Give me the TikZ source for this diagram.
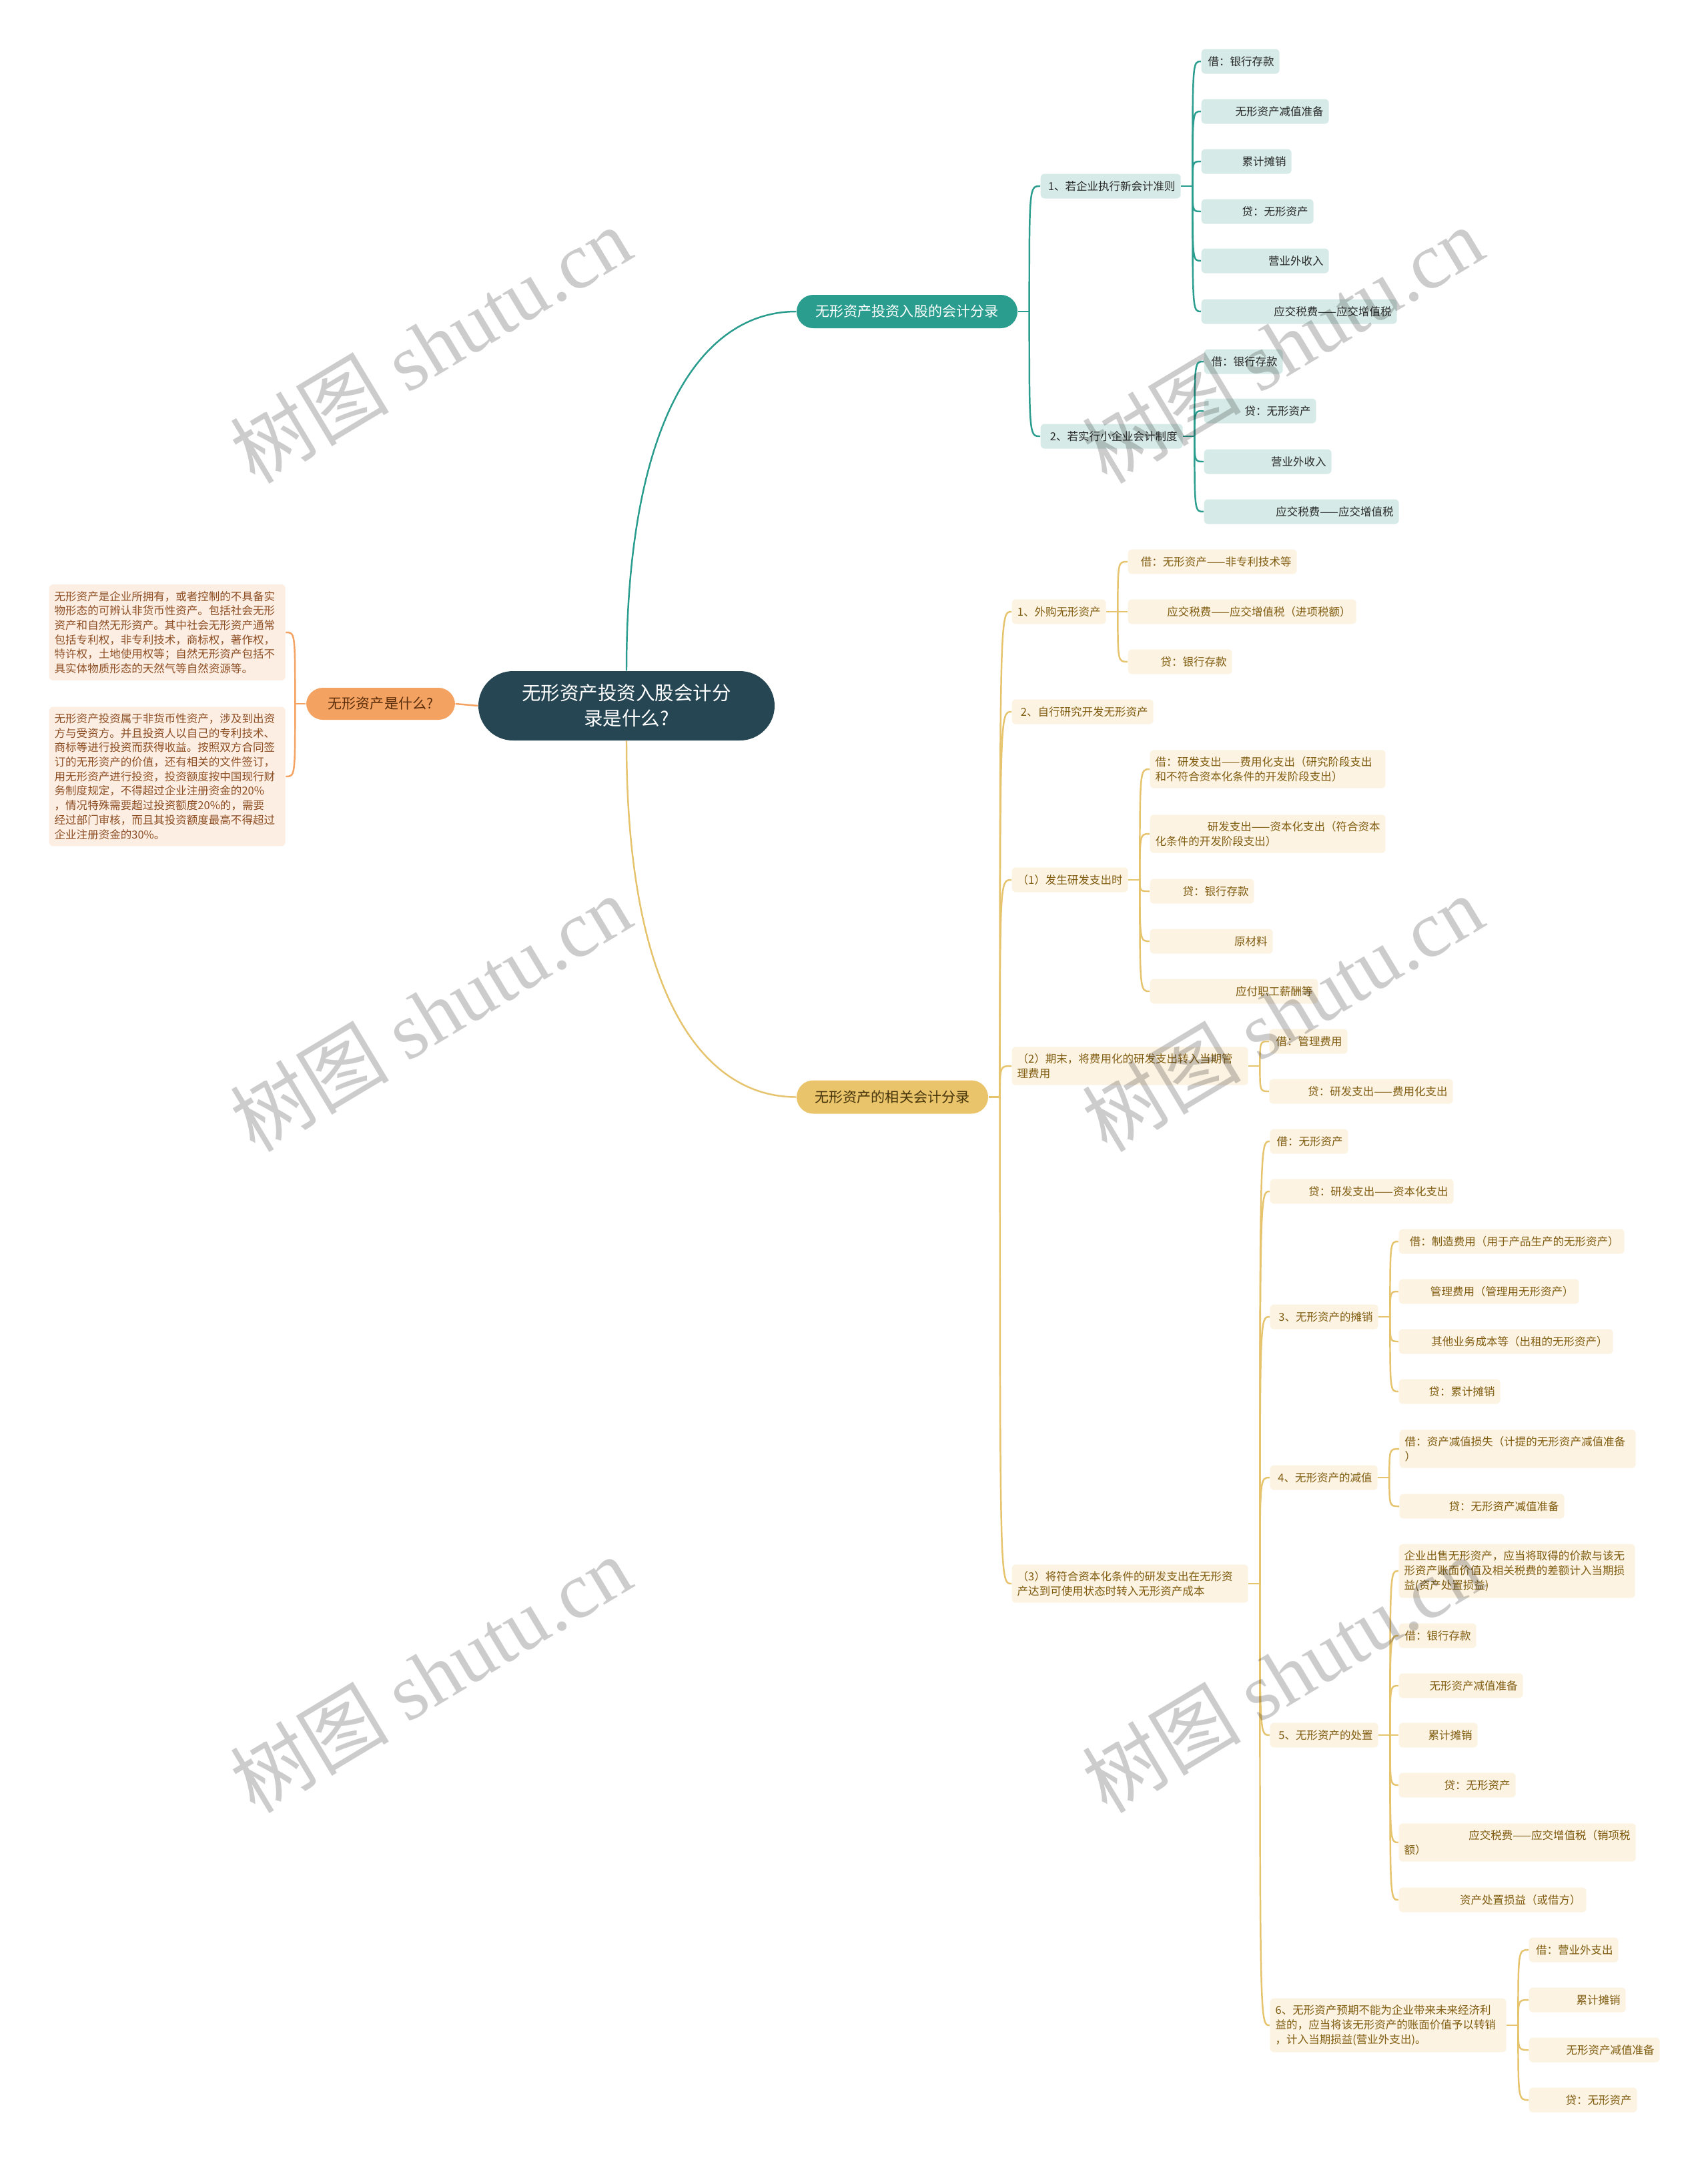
\documentclass[tikz,border=0pt]{standalone}
\usepackage{fontspec}
\setmainfont{Noto Sans CJK SC}
\newfontfamily\wmserif{Liberation Serif}
\usepackage{xcolor}
\usepackage{tikz}
\usetikzlibrary{calc}
\definecolor{rootfill}{RGB}{38,70,83}
\definecolor{tealmain}{RGB}{42,157,143}
\definecolor{tealleaf}{RGB}{214,235,232}
\definecolor{tealtext}{RGB}{40,40,40}
\definecolor{goldmain}{RGB}{233,196,106}
\definecolor{goldline}{RGB}{230,196,110}
\definecolor{goldleaf}{RGB}{252,243,226}
\definecolor{goldtext}{RGB}{128,92,16}
\definecolor{goldmaintext}{RGB}{70,52,10}
\definecolor{orangemain}{RGB}{244,162,97}
\definecolor{orangemaintext}{RGB}{90,45,10}
\definecolor{peachleaf}{RGB}{253,238,228}
\definecolor{peachtext}{RGB}{140,78,35}

\begin{document}
\begin{tikzpicture}[
  rootbox/.style={fill=rootfill, text=white, rounded corners=0.52cm,
    minimum width=4.44cm, minimum height=1.04cm, align=center,
    font=\fontsize{8.1pt}{10.9pt}\selectfont},
  mainbox/.style={rounded corners=0.25cm, minimum height=0.5cm, inner sep=0pt,
    font=\fontsize{6pt}{7pt}\selectfont},
  leafbase/.style={anchor=west, rounded corners=0.06cm, inner xsep=0.08cm,
    inner ysep=0.1cm, minimum height=0.37cm,
    font=\fontsize{4.7pt}{6.17pt}\selectfont},
  tleaf/.style={leafbase, fill=tealleaf, text=tealtext, text width=#1cm, align=right},
  gleaf/.style={leafbase, fill=goldleaf, text=goldtext, text width=#1cm, align=right},
  gnote/.style={leafbase, fill=goldleaf, text=goldtext, text width=#1cm, align=left},
  pnote/.style={leafbase, fill=peachleaf, text=peachtext, text width=3.38cm, align=left},
  tline/.style={draw=tealmain, line width=0.7pt},
  gline/.style={draw=goldline, line width=0.7pt},
  pline/.style={draw=orangemain, line width=0.7pt},
  wmark/.style={rotate=31, text=black, opacity=0.2,
    font=\fontsize{34pt}{34pt}\selectfont},
]
  \useasboundingbox (0,0) rectangle (25.6,-32.41);
  \fill[white] (0,0) rectangle (25.6,-32.41);

  % root and main branches
  \node[rootbox] (root) at (9.39,-10.58) {无形资产投资入股会计分\\录是什么?};
  \node[mainbox, fill=tealmain, text=white, minimum width=3.31cm] (tM) at (13.595,-4.67) {无形资产投资入股的会计分录};
  \node[mainbox, fill=goldmain, text=goldmaintext, minimum width=2.87cm] (gM) at (13.375,-16.445) {无形资产的相关会计分录};
  \node[mainbox, fill=orangemain, text=orangemaintext, minimum width=2.23cm, minimum height=0.48cm] (pM) at (5.705,-10.55) {无形资产是什么?};

  % left notes
  \node[pnote] (pb1) at (0.73,-9.48) {无形资产是企业所拥有，或者控制的不具备实\\物形态的可辨认非货币性资产。包括社会无形\\资产和自然无形资产。其中社会无形资产通常\\包括专利权，非专利技术，商标权，著作权，\\特许权，土地使用权等；自然无形资产包括不\\具实体物质形态的天然气等自然资源等。};
  \node[pnote] (pb2) at (0.73,-11.64) {无形资产投资属于非货币性资产，涉及到出资\\方与受资方。并且投资人以自己的专利技术、\\商标等进行投资而获得收益。按照双方合同签\\订的无形资产的价值，还有相关的文件签订，\\用无形资产进行投资，投资额度按中国现行财\\务制度规定，不得超过企业注册资金的20\%\\，情况特殊需要超过投资额度20\%的，需要\\经过部门审核，而且其投资额度最高不得超过\\企业注册资金的30\%。};

  % teal branch
  \node[tleaf=1.94] (tA) at (15.59,-2.79) {1、若企业执行新会计准则};
  \node[tleaf=1.97] (tB) at (15.59,-6.54) {2、若实行小企业会计制度};
  \node[tleaf=1.01] (ta1) at (18.00,-0.92) {借：银行存款};
  \node[tleaf=1.75] (ta2) at (18.00,-1.67) {无形资产减值准备};
  \node[tleaf=1.19] (ta3) at (18.00,-2.42) {累计摊销};
  \node[tleaf=1.52] (ta4) at (18.00,-3.17) {贷：无形资产};
  \node[tleaf=1.75] (ta5) at (18.00,-3.91) {营业外收入};
  \node[tleaf=2.77] (ta6) at (18.00,-4.67) {应交税费——应交增值税};
  \node[tleaf=1.02] (tb1) at (18.04,-5.42) {借：银行存款};
  \node[tleaf=1.52] (tb2) at (18.04,-6.16) {贷：无形资产};
  \node[tleaf=1.75] (tb3) at (18.04,-6.92) {营业外收入};
  \node[tleaf=2.76] (tb4) at (18.04,-7.67) {应交税费——应交增值税};

  % gold branch
  \node[gleaf=1.25] (gA) at (15.16,-9.17) {1、外购无形资产};
  \node[gleaf=2.37] (ga1) at (16.90,-8.42) {借：无形资产——非专利技术等};
  \node[gleaf=3.26] (ga2) at (16.90,-9.17) {应交税费——应交增值税（进项税额）};
  \node[gleaf=1.40] (ga3) at (16.90,-9.92) {贷：银行存款};
  \node[gleaf=1.96] (gB) at (15.16,-10.67) {2、自行研究开发无形资产};
  \node[gnote=1.58] (gC) at (15.16,-13.19) {（1）发生研发支出时};
  \node[gnote=3.37] (gc1) at (17.23,-11.53) {借：研发支出——费用化支出（研究阶段支出\\和不符合资本化条件的开发阶段支出）};
  \node[gnote=3.37] (gc2) at (17.23,-12.50) {\hspace*{\fill}研发支出——资本化支出（符合资本\\化条件的开发阶段支出）};
  \node[gleaf=1.40] (gc3) at (17.23,-13.36) {贷：银行存款};
  \node[gleaf=1.68] (gc4) at (17.23,-14.11) {原材料};
  \node[gleaf=2.36] (gc5) at (17.23,-14.86) {应付职工薪酬等};
  \node[gnote=3.38] (gD) at (15.16,-15.98) {（2）期末，将费用化的研发支出转入当期管\\理费用};
  \node[gleaf=1.01] (gd1) at (19.02,-15.61) {借：管理费用};
  \node[gleaf=2.59] (gd2) at (19.02,-16.36) {贷：研发支出——费用化支出};
  \node[gnote=3.38] (gE) at (15.16,-23.74) {（3）将符合资本化条件的研发支出在无形资\\产达到可使用状态时转入无形资产成本};
  \node[gleaf=1.01] (ge1) at (19.03,-17.11) {借：无形资产};
  \node[gleaf=2.59] (ge2) at (19.03,-17.86) {贷：研发支出——资本化支出};
  \node[gleaf=1.46] (ge3) at (19.03,-19.74) {3、无形资产的摊销};
  \node[gleaf=3.22] (g3a) at (20.96,-18.61) {借：制造费用（用于产品生产的无形资产）};
  \node[gleaf=2.54] (g3b) at (20.96,-19.36) {管理费用（管理用无形资产）};
  \node[gleaf=3.05] (g3c) at (20.96,-20.11) {其他业务成本等（出租的无形资产）};
  \node[gleaf=1.36] (g3d) at (20.96,-20.86) {贷：累计摊销};
  \node[gleaf=1.45] (ge4) at (19.03,-22.15) {4、无形资产的减值};
  \node[gnote=3.38] (g4a) at (20.97,-21.72) {借：资产减值损失（计提的无形资产减值准备\\）};
  \node[gleaf=2.31] (g4b) at (20.97,-22.58) {贷：无形资产减值准备};
  \node[gleaf=1.46] (ge5) at (19.03,-26.01) {5、无形资产的处置};
  \node[gnote=3.38] (g5a) at (20.96,-23.55) {企业出售无形资产，应当将取得的价款与该无\\形资产账面价值及相关税费的差额计入当期损\\益(资产处置损益)};
  \node[gleaf=1.00] (g5b) at (20.96,-24.52) {借：银行存款};
  \node[gleaf=1.70] (g5c) at (20.96,-25.27) {无形资产减值准备};
  \node[gleaf=1.02] (g5d) at (20.96,-26.01) {累计摊销};
  \node[gleaf=1.59] (g5e) at (20.96,-26.76) {贷：无形资产};
  \node[gnote=3.39] (g5f) at (20.96,-27.62) {\hspace*{\fill}应交税费——应交增值税（销项税\\额）};
  \node[gleaf=2.65] (g5g) at (20.96,-28.48) {资产处置损益（或借方）};
  \node[gnote=3.38] (ge6) at (19.03,-30.36) {6、无形资产预期不能为企业带来未来经济利\\益的，应当将该无形资产的账面价值予以转销\\，计入当期损益(营业外支出)。};
  \node[gleaf=1.18] (g6a) at (22.91,-29.23) {借：营业外支出};
  \node[gleaf=1.29] (g6b) at (22.91,-29.98) {累计摊销};
  \node[gleaf=1.80] (g6c) at (22.91,-30.73) {无形资产减值准备};
  \node[gleaf=1.46] (g6d) at (22.91,-31.48) {贷：无形资产};

  % links from the root
  \draw[tline] (root.north) .. controls +(0,3.8) and +(-1.4,0) .. (tM.west);
  \draw[gline] (root.south) .. controls +(0,-3.8) and +(-1.4,0) .. (gM.west);
  \draw[pline] (root.west) -- (pM.east);
  \path (pM.west) ++(-0.16,0) coordinate (pj);
  \draw[pline] (pM.west) -- (pj);
  \foreach \c in {pb1,pb2}
    \draw[pline] (pj) .. controls (pj |- \c.east) .. (\c.east);

  % forks
  \foreach \p/\k in {tM/{tA,tB}, tA/{ta1,ta2,ta3,ta4,ta5,ta6}, tB/{tb1,tb2,tb3,tb4}} {
    \path (\p.east) ++(0.17,0) coordinate (j);
    \draw[tline] (\p.east) -- (j);
    \foreach \c in \k
      \draw[tline] (j) .. controls (j |- \c.west) .. (\c.west);
  }
  \foreach \p/\k in {gM/{gA,gB,gC,gD,gE}, gA/{ga1,ga2,ga3}, gC/{gc1,gc2,gc3,gc4,gc5},
      gD/{gd1,gd2}, gE/{ge1,ge2,ge3,ge4,ge5,ge6}, ge3/{g3a,g3b,g3c,g3d},
      ge4/{g4a,g4b}, ge5/{g5a,g5b,g5c,g5d,g5e,g5f,g5g}, ge6/{g6a,g6b,g6c,g6d}} {
    \path (\p.east) ++(0.17,0) coordinate (j);
    \draw[gline] (\p.east) -- (j);
    \foreach \c in \k
      \draw[gline] (j) .. controls (j |- \c.west) .. (\c.west);
  }

  % watermarks
  \foreach \x/\y in {6.45/-5.17, 19.22/-5.17, 6.45/-15.19, 19.22/-15.19, 6.45/-25.10, 19.22/-25.10}
    \node[wmark] at (\x,\y) {树图 {\wmserif shutu.cn}};
\end{tikzpicture}
\end{document}
